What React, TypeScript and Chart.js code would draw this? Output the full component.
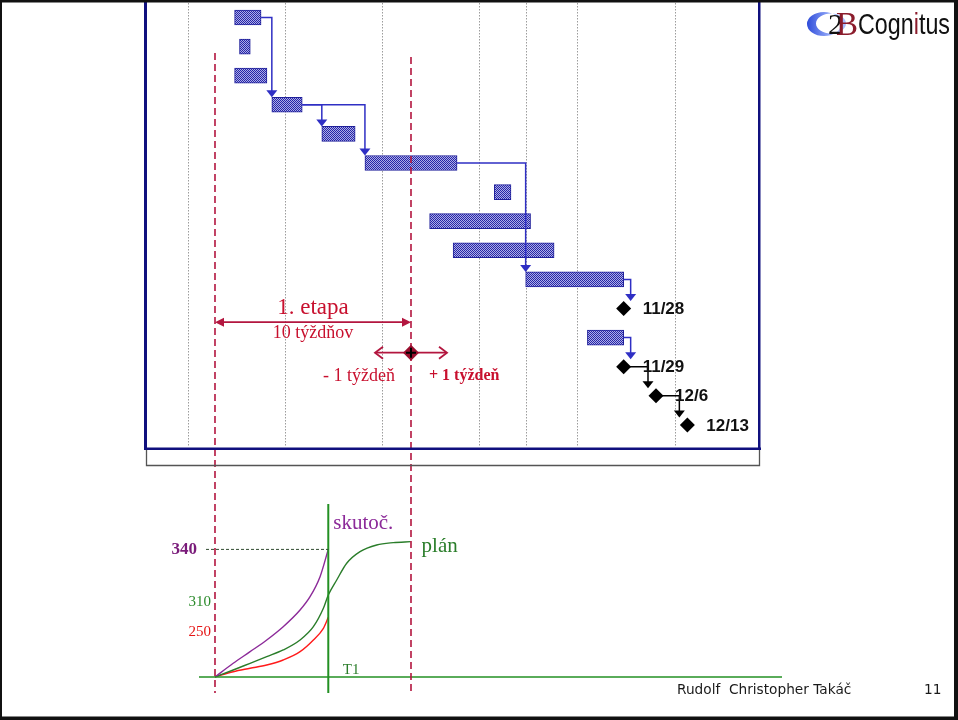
import React, { useEffect, useRef } from 'react';
import { Chart, registerables } from 'chart.js';

Chart.register(...registerables);

// ---------- Gantt data (x in weeks from start of stage 1, y = row index) ----------
const taskRows = [0, 1, 2, 3, 4, 5, 6, 7, 8, 9, 11];
const taskStart = [1.0, 1.25, 1.0, 2.9, 5.45, 7.65, 14.25, 10.95, 12.15, 15.85, 19.0];
const taskEnd = [2.35, 1.8, 2.65, 4.45, 7.15, 12.35, 15.1, 16.1, 17.3, 20.85, 20.85];

const milestoneRows = [10, 12, 13, 14];
const milestoneWeeks = [20.85, 20.85, 22.5, 24.1];
const milestoneLabels = ['11/28', '11/29', '12/6', '12/13'];

const linkFrom = [0, 3, 3, 5, 9, 11, 12, 13];
const linkTo = [3, 4, 5, 9, 10, 12, 13, 14];

const gridWeeks = [-1.4, 3.57, 8.52, 13.48, 15.87, 18.48, 23.47];

// ---------- stage annotation ----------
const etapaStart = 0;
const etapaEnd = 10;
const etapaTitle = '1. etapa';
const etapaLength = '10 týždňov';
const minusLabel = '- 1 týždeň';
const plusLabel = '+ 1 týždeň';

// ---------- S-curve data (x in weeks, y in cost units) ----------
const actualWeeks = [0, 0.93, 1.79, 2.64, 3.48, 4.34, 4.85, 5.36, 5.78];
const actualValues = [0, 36.5, 67.4, 98.6, 134, 178.5, 214, 267.3, 340];
const planWeeks = [0, 0.93, 1.79, 2.64, 3.48, 4.34, 5.02, 5.53, 5.78, 6.21, 6.72, 7.4, 8.25, 9.1, 9.98];
const planValues = [0, 18.7, 36.5, 54.1, 72, 98.6, 134, 183, 218.5, 258.5, 303, 334, 351.8, 358, 360.6];
const earnedWeeks = [0, 0.93, 1.79, 2.64, 3.48, 4.34, 5.02, 5.53, 5.78];
const earnedValues = [0, 14.1, 23.2, 32, 45.3, 67.4, 98.6, 129.8, 159];
const t1Week = 5.78;
const valueLabels = ['340', '310', '250'];
const valueLabelLevels = [340, 200, 120];
const seriesNames = ['skutoč.', 'plán'];

const footerAuthor = 'Rudolf  Christopher Takáč';
const pageNumber = '11';

// scale ranges (map the canvas)
const X_MIN = -10.969;
const X_MAX = 37.908;
const ROW_MIN = -0.601;
const ROW_MAX = 24.141;
const V_MIN = -114.6;
const V_MAX = 1803.9;

const RED = '#b3163f';
const RED_TEXT = '#c8102e';
const PURPLE = '#8c2a99';
const GREEN = '#2a7d2a';
const BRIGHT_RED = '#ff1a1a';
const LINK_BLUE = '#2f2fc4';
const NAVY = '#10107e';

function itemAt(row: number) {
  const ti = taskRows.indexOf(row);
  if (ti >= 0) return { ms: false, start: taskStart[ti], end: taskEnd[ti] };
  const mi = milestoneRows.indexOf(row);
  return { ms: true, start: milestoneWeeks[mi], end: milestoneWeeks[mi] };
}

function triDown(ctx: CanvasRenderingContext2D, x: number, tipY: number, w: number, h: number) {
  ctx.beginPath();
  ctx.moveTo(x - w / 2, tipY - h);
  ctx.lineTo(x + w / 2, tipY - h);
  ctx.lineTo(x, tipY);
  ctx.closePath();
  ctx.fill();
}

function headH(ctx: CanvasRenderingContext2D, x: number, y: number, dir: number, len: number, half: number, filled: boolean) {
  ctx.beginPath();
  ctx.moveTo(x - dir * len, y - half);
  ctx.lineTo(x, y);
  ctx.lineTo(x - dir * len, y + half);
  if (filled) {
    ctx.closePath();
    ctx.fill();
  } else {
    ctx.stroke();
  }
}

function fitText(ctx: CanvasRenderingContext2D, parts: string[], colors: string[], x: number, y: number, width: number) {
  const full = parts.join('');
  const w = ctx.measureText(full).width;
  const sx = width / w;
  ctx.save();
  ctx.translate(x, y);
  ctx.scale(sx, 1);
  let cx = 0;
  parts.forEach((p, i) => {
    ctx.fillStyle = colors[i];
    ctx.fillText(p, cx, 0);
    cx += ctx.measureText(p).width;
  });
  ctx.restore();
}

export default function App() {
  const ref = useRef<HTMLCanvasElement | null>(null);

  useEffect(() => {
    const canvas = ref.current;
    if (!canvas) return;

    const pc = document.createElement('canvas');
    pc.width = 2;
    pc.height = 2;
    const p = pc.getContext('2d')!;
    p.fillStyle = '#aeaee6';
    p.fillRect(0, 0, 2, 2);
    p.fillStyle = '#2626a8';
    p.fillRect(0, 0, 1, 1);
    p.fillRect(1, 1, 1, 1);
    const pattern = canvas.getContext('2d')!.createPattern(pc, 'repeat');

    const slidePlugin = {
      id: 'slide',
      beforeDraw(chart: any) {
        const ctx = chart.ctx;
        ctx.save();
        ctx.fillStyle = '#ffffff';
        ctx.fillRect(0, 0, chart.width, chart.height);
        ctx.restore();
      },
      beforeDatasetsDraw(chart: any) {
        const ctx = chart.ctx;
        const X = (v: number) => chart.scales.x.getPixelForValue(v);
        ctx.save();
        ctx.strokeStyle = '#9c9c9c';
        ctx.lineWidth = 1;
        ctx.setLineDash([1.5, 1.5]);
        gridWeeks.forEach((w) => {
          const x = Math.round(X(w)) + 0.5;
          ctx.beginPath();
          ctx.moveTo(x, 3);
          ctx.lineTo(x, 447);
          ctx.stroke();
        });
        ctx.restore();
      },
      afterDatasetDraw(chart: any, args: any) {
        if (args.index !== 0) return;
        const ctx = chart.ctx;
        const X = (v: number) => chart.scales.x.getPixelForValue(v);
        const R = (v: number) => chart.scales.y.getPixelForValue(v);
        ctx.save();
        ctx.lineWidth = 1.5;
        linkFrom.forEach((a, i) => {
          const b = linkTo[i];
          const src = itemAt(a);
          const tgt = itemAt(b);
          const sx = X(src.end);
          const sy = R(a);
          const vx = tgt.ms ? Math.max(X(tgt.start) - 8, sx + 7) : Math.max(X(tgt.start), sx + 7);
          const tipY = R(b) - 7.5;
          const col = src.ms ? '#000000' : LINK_BLUE;
          ctx.strokeStyle = col;
          ctx.fillStyle = col;
          ctx.beginPath();
          ctx.moveTo(sx, sy);
          ctx.lineTo(vx, sy);
          ctx.lineTo(vx, tipY - 5);
          ctx.stroke();
          triDown(ctx, vx, tipY, 11, 7);
        });
        ctx.restore();
      },
      afterDatasetsDraw(chart: any) {
        const ctx = chart.ctx;
        const X = (v: number) => chart.scales.x.getPixelForValue(v);
        const R = (v: number) => chart.scales.y.getPixelForValue(v);
        const V = (v: number) => chart.scales.y2.getPixelForValue(v);
        ctx.save();

        // milestone labels
        ctx.fillStyle = '#111111';
        ctx.font = "bold 17px 'Liberation Sans', Arial, sans-serif";
        ctx.textBaseline = 'middle';
        ctx.textAlign = 'left';
        milestoneRows.forEach((r, i) => {
          ctx.fillText(milestoneLabels[i], X(milestoneWeeks[i]) + 19, R(r) + 1);
        });

        // S-curve: T1 baseline and vertical
        const x0 = X(etapaStart);
        const xT = X(t1Week);
        const y0 = V(0);
        ctx.strokeStyle = '#239023';
        ctx.lineWidth = 1.5;
        ctx.beginPath();
        ctx.moveTo(199, y0);
        ctx.lineTo(782, y0);
        ctx.stroke();
        ctx.lineWidth = 2;
        ctx.beginPath();
        ctx.moveTo(xT, 504);
        ctx.lineTo(xT, 693);
        ctx.stroke();

        // dashed level line for 340
        ctx.strokeStyle = '#2f4a2f';
        ctx.lineWidth = 1;
        ctx.setLineDash([3, 2]);
        ctx.beginPath();
        ctx.moveTo(206, V(valueLabelLevels[0]));
        ctx.lineTo(xT, V(valueLabelLevels[0]));
        ctx.stroke();
        ctx.setLineDash([]);

        // red dashed stage lines
        ctx.strokeStyle = RED;
        ctx.lineWidth = 1.6;
        ctx.setLineDash([7, 4]);
        ctx.beginPath();
        ctx.moveTo(X(etapaStart), 53);
        ctx.lineTo(X(etapaStart), 693);
        ctx.moveTo(X(etapaEnd), 57);
        ctx.lineTo(X(etapaEnd), 693);
        ctx.stroke();
        ctx.setLineDash([]);

        // stage arrow
        const ay = R(10.47);
        ctx.strokeStyle = RED;
        ctx.fillStyle = RED;
        ctx.lineWidth = 1.6;
        ctx.beginPath();
        ctx.moveTo(X(etapaStart) + 4, ay);
        ctx.lineTo(X(etapaEnd) - 4, ay);
        ctx.stroke();
        headH(ctx, X(etapaStart), ay, -1, 9, 4.5, true);
        headH(ctx, X(etapaEnd), ay, 1, 9, 4.5, true);

        ctx.fillStyle = RED_TEXT;
        ctx.textAlign = 'center';
        ctx.font = "23px 'Liberation Serif', 'Times New Roman', serif";
        ctx.fillText(etapaTitle, (X(etapaStart) + X(etapaEnd)) / 2, ay - 14);
        ctx.font = "18px 'Liberation Serif', 'Times New Roman', serif";
        ctx.fillText(etapaLength, (X(etapaStart) + X(etapaEnd)) / 2, ay + 11);

        // deviation marker
        const dx = X(etapaEnd);
        const dy = R(11.52);
        ctx.strokeStyle = RED;
        ctx.lineWidth = 1.8;
        ctx.beginPath();
        ctx.moveTo(dx - 35, dy);
        ctx.lineTo(dx + 35, dy);
        ctx.stroke();
        headH(ctx, dx - 36, dy, -1, 8, 6, false);
        headH(ctx, dx + 36, dy, 1, 8, 6, false);
        ctx.fillStyle = '#9a0f2e';
        ctx.beginPath();
        ctx.moveTo(dx - 8, dy);
        ctx.lineTo(dx, dy - 8);
        ctx.lineTo(dx + 8, dy);
        ctx.lineTo(dx, dy + 8);
        ctx.closePath();
        ctx.fill();
        ctx.strokeStyle = '#000000';
        ctx.lineWidth = 2;
        ctx.beginPath();
        ctx.moveTo(dx - 5, dy);
        ctx.lineTo(dx + 5, dy);
        ctx.moveTo(dx, dy - 5);
        ctx.lineTo(dx, dy + 5);
        ctx.stroke();

        ctx.fillStyle = RED_TEXT;
        ctx.textAlign = 'right';
        ctx.font = "18px 'Liberation Serif', 'Times New Roman', serif";
        ctx.fillText(minusLabel, dx - 16, dy + 24);
        ctx.textAlign = 'left';
        ctx.font = "bold 16px 'Liberation Serif', 'Times New Roman', serif";
        ctx.fillText(plusLabel, dx + 18, dy + 23.5);

        // S-curve labels
        ctx.font = "21px 'Liberation Serif', 'Times New Roman', serif";
        ctx.fillStyle = PURPLE;
        ctx.textAlign = 'left';
        ctx.fillText(seriesNames[0], xT + 5, V(410));
        ctx.fillStyle = GREEN;
        ctx.fillText(seriesNames[1], X(planWeeks[planWeeks.length - 1]) + 11, V(planValues[planValues.length - 1]) + 5);
        ctx.font = "15px 'Liberation Serif', 'Times New Roman', serif";
        ctx.fillText('T1', xT + 14.5, y0 - 7);

        ctx.textAlign = 'right';
        ctx.font = "bold 17px 'Liberation Serif', 'Times New Roman', serif";
        ctx.fillStyle = '#7a1b7a';
        ctx.fillText(valueLabels[0], x0 - 18, V(valueLabelLevels[0]));
        ctx.font = "15px 'Liberation Serif', 'Times New Roman', serif";
        ctx.fillStyle = '#2a8a2a';
        ctx.fillText(valueLabels[1], x0 - 4, V(valueLabelLevels[1]));
        ctx.fillStyle = '#e51515';
        ctx.fillText(valueLabels[2], x0 - 4, V(valueLabelLevels[2]));
        ctx.restore();
      },
      afterDraw(chart: any) {
        const ctx = chart.ctx;
        ctx.save();
        // gantt frame
        ctx.fillStyle = NAVY;
        ctx.fillRect(144, 0, 3, 450);
        ctx.fillRect(144, 447.5, 617, 2.5);
        ctx.fillRect(758, 0, 2.5, 450);
        ctx.strokeStyle = '#555555';
        ctx.lineWidth = 1.3;
        ctx.beginPath();
        ctx.moveTo(146.5, 450);
        ctx.lineTo(146.5, 465.5);
        ctx.lineTo(759.5, 465.5);
        ctx.lineTo(759.5, 450);
        ctx.stroke();

        // logo
        const grad = ctx.createLinearGradient(806, 0, 834, 0);
        grad.addColorStop(0, '#2a48d8');
        grad.addColorStop(1, '#a8bcff');
        ctx.fillStyle = grad;
        ctx.beginPath();
        ctx.ellipse(824, 24, 17, 12, 0, 0, Math.PI * 2);
        ctx.ellipse(831, 23.5, 15, 10, 0, 0, Math.PI * 2);
        ctx.fill('evenodd');
        ctx.textBaseline = 'alphabetic';
        ctx.textAlign = 'left';
        ctx.fillStyle = '#111111';
        ctx.font = "30px 'Liberation Serif', serif";
        ctx.fillText('2', 828, 34);
        ctx.fillStyle = '#8b1c2c';
        ctx.font = "33px 'Liberation Serif', serif";
        ctx.fillText('B', 836, 35);
        ctx.font = "29px 'Liberation Sans', Arial, sans-serif";
        fitText(ctx, ['Cogn', 'i', 'tus'], ['#111111', '#8b1c2c', '#111111'], 858, 34, 92);

        // footer
        ctx.font = "13.7px 'DejaVu Sans', Verdana, sans-serif";
        ctx.textBaseline = 'middle';
        ctx.fillStyle = '#1a1a1a';
        ctx.fillText(footerAuthor, 677, 690);
        ctx.fillText(pageNumber, 924, 690);

        // slide border
        ctx.fillStyle = '#111111';
        ctx.fillRect(0, 0, 958, 2.5);
        ctx.fillRect(0, 0, 2, 720);
        ctx.fillRect(0, 716.5, 958, 3.5);
        ctx.fillRect(954, 0, 4, 720);
        ctx.restore();
      },
    };

    const chart = new Chart(canvas, {
      type: 'line',
      data: {
        datasets: [
          {
            type: 'bar',
            label: 'Úlohy',
            indexAxis: 'y',
            xAxisID: 'x',
            yAxisID: 'y',
            data: taskRows.map((r, i) => ({ x: [taskStart[i], taskEnd[i]], y: r })),
            backgroundColor: pattern as any,
            borderColor: '#1f1f9a',
            borderWidth: 1,
            borderSkipped: false,
            barThickness: 15,
            grouped: false,
            order: 5,
          } as any,
          {
            type: 'scatter',
            label: 'Míľniky',
            xAxisID: 'x',
            yAxisID: 'y',
            data: milestoneRows.map((r, i) => ({ x: milestoneWeeks[i], y: r })),
            pointStyle: 'rectRot',
            pointRadius: 7.5,
            backgroundColor: '#000000',
            borderColor: '#000000',
            borderWidth: 0,
            order: 0,
          } as any,
          {
            type: 'line',
            label: 'skutoč.',
            xAxisID: 'x',
            yAxisID: 'y2',
            data: actualWeeks.map((w, i) => ({ x: w, y: actualValues[i] })),
            borderColor: PURPLE,
            borderWidth: 1.4,
            pointRadius: 0,
            cubicInterpolationMode: 'monotone',
            fill: false,
            order: 1,
          } as any,
          {
            type: 'line',
            label: 'plán',
            xAxisID: 'x',
            yAxisID: 'y2',
            data: planWeeks.map((w, i) => ({ x: w, y: planValues[i] })),
            borderColor: GREEN,
            borderWidth: 1.4,
            pointRadius: 0,
            cubicInterpolationMode: 'monotone',
            fill: false,
            order: 1,
          } as any,
          {
            type: 'line',
            label: 'zarobená hodnota',
            xAxisID: 'x',
            yAxisID: 'y2',
            data: earnedWeeks.map((w, i) => ({ x: w, y: earnedValues[i] })),
            borderColor: BRIGHT_RED,
            borderWidth: 1.4,
            pointRadius: 0,
            cubicInterpolationMode: 'monotone',
            fill: false,
            order: 1,
          } as any,
        ],
      },
      options: {
        responsive: false,
        maintainAspectRatio: false,
        animation: false,
        events: [],
        layout: { padding: 0, autoPadding: false },
        plugins: {
          legend: { display: false },
          tooltip: { enabled: false },
          title: { display: false },
        },
        scales: {
          x: { type: 'linear', display: false, offset: false, min: X_MIN, max: X_MAX },
          y: { type: 'linear', display: false, offset: false, reverse: true, min: ROW_MIN, max: ROW_MAX },
          y2: { type: 'linear', display: false, offset: false, min: V_MIN, max: V_MAX },
        },
      } as any,
      plugins: [slidePlugin],
    });

    return () => chart.destroy();
  }, []);

  return (
    <div style={{ position: 'fixed', left: 0, top: 0, width: 958, height: 720, background: '#ffffff' }}>
      <canvas ref={ref} width={958} height={720} style={{ display: 'block', width: 958, height: 720 }} />
    </div>
  );
}
